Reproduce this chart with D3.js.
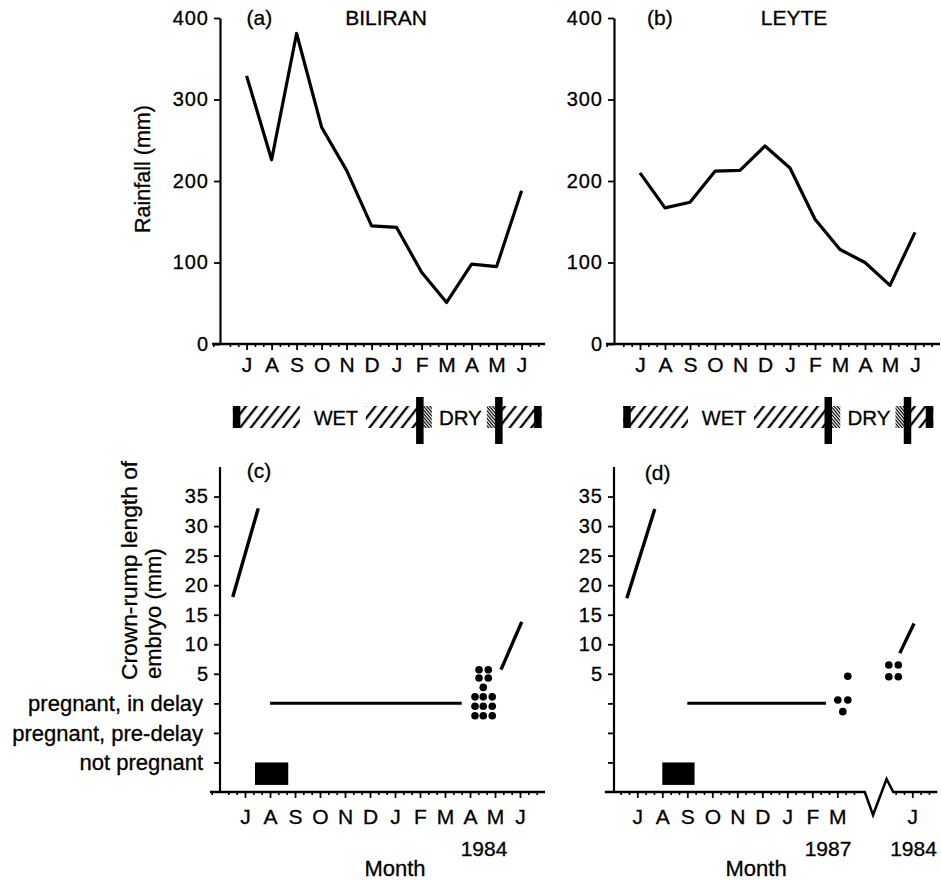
<!DOCTYPE html>
<html>
<head>
<meta charset="utf-8">
<script src="https://cdnjs.cloudflare.com/ajax/libs/d3/7.8.5/d3.min.js"></script>
<style>
  body { margin: 0; background: #fff; }
  text { font-family: "Liberation Sans", Arial, Helvetica, sans-serif; fill: #000; stroke: #000; stroke-width: 0.3px; }
</style>
</head>
<body>
<script>
// months July..June
var months = ["J","A","S","O","N","D","J","F","M","A","M","J"];
var rainBiliran = [329, 226, 381, 266, 213, 145, 143, 88, 51, 98, 95, 188];
var rainLeyte = [210, 167, 174, 212, 213, 243, 216, 153, 116, 100, 72, 137];
var rainTicks = [0, 100, 200, 300, 400];
var mmTicks = [5, 10, 15, 20, 25, 30, 35];
// reproductive states sit below the mm scale
var stateTicks = [0, -5, -10];
var stateNames = ["pregnant, in delay", "pregnant, pre-delay", "not pregnant"];

// season bar: start, end of wet, end of dry, end (months from first J)
var seasonBiliran = [-0.55, 6.93, 10.09, 11.8];
var seasonLeyte = [-0.67, 7.53, 10.7, 11.73];

// embryo growth segments [month0, mm0, month1, mm1]
var growthBiliran = [[-0.49, 18, 0.53, 33], [10.24, 5.7, 11.07, 13.8]];
var growthLeyte = [[-0.42, 17.8, 0.7, 32.9], [10.5, 8.5, 11.07, 13.5]];
// not pregnant [from, to] and in delay [from, to], in months
var notPregBiliran = [0.4, 1.73];
var notPregLeyte = [1.0, 2.29];
var delayBiliran = [1.0, 8.67];
var delayLeyte = [2.0, 7.55];
// single embryos [month, mm]
var embryoBiliran = [[9.36,5.7],[9.73,5.7],[9.36,4.3],[9.73,4.3],[9.53,2.7],
  [9.2,1.1],[9.53,1.1],[9.89,1.1],[9.2,-0.5],[9.53,-0.5],[9.89,-0.5],
  [9.2,-2.1],[9.53,-2.1],[9.89,-2.1]];
var embryoLeyte = [[8.02,0.57],[8.42,0.57],[8.22,-1.4],[8.42,4.6],
  [10.06,6.5],[10.44,6.5],[10.06,4.5],[10.44,4.5]];

var W = 941, H = 881;
var FONT = "'Liberation Sans', Arial, sans-serif";
var svg = d3.select("body").append("svg").attr("width", W).attr("height", H);
svg.append("rect").attr("width", W).attr("height", H).attr("fill", "#fff");

var defs = svg.append("defs");
defs.append("pattern").attr("id", "wet")
  .attr("patternUnits", "userSpaceOnUse")
  .attr("width", 8.5).attr("height", 30)
  .attr("patternTransform", "rotate(38)")
  .append("line")
  .attr("x1", 2).attr("y1", 0).attr("x2", 2).attr("y2", 30)
  .attr("stroke", "#000").attr("stroke-width", 2.3);
defs.append("pattern").attr("id", "dry")
  .attr("patternUnits", "userSpaceOnUse")
  .attr("width", 2.4).attr("height", 30)
  .attr("patternTransform", "rotate(-40)")
  .append("line")
  .attr("x1", 1).attr("y1", 0).attr("x2", 1).attr("y2", 30)
  .attr("stroke", "#000").attr("stroke-width", 1.2);

var yRain = d3.scaleLinear().domain([0, 400]).range([344, 18]);
var yEmb = d3.scaleLinear().domain([-15, 40]).range([792, 467]);

function monthScale(j0) {
  return d3.scaleLinear().domain([0, 11]).range([j0, j0 + 275]);
}

// x axis: line, major month ticks, minor ticks
function xAxis(g, x, y0, from, to, majors, gap, pad) {
  var minors = d3.range(Math.ceil(from * 3), Math.floor(to * 3) + 1)
    .map(function(k) { return k / 3; })
    .filter(function(m) { return Math.abs(m - Math.round(m)) > 0.01; })
    .filter(function(m) { return !gap || m < gap[0] || m > gap[1]; });
  g.append("g").attr("transform", "translate(0," + y0 + ")")
    .call(d3.axisBottom(x).tickValues(minors).tickSize(3).tickFormat(""))
    .call(function(s) { s.select(".domain").remove(); s.selectAll("line").attr("stroke", "#000").attr("stroke-width", 1.6); });
  var ax = g.append("g").attr("transform", "translate(0," + y0 + ")")
    .call(d3.axisBottom(x).tickValues(majors).tickSize(6).tickPadding(pad)
      .tickFormat(function(d) { return months[d]; }));
  ax.select(".domain").remove();
  ax.selectAll("line").attr("stroke", "#000").attr("stroke-width", 1.8);
  ax.selectAll("text").attr("font-size", 21).style("font-family", FONT);
  var pts;
  if (gap) {
    // broken axis (zig-zag)
    pts = [[from, 0], [gap[0], 0], [gap[0] + 0.33, 23], [gap[0] + 0.87, -13], [gap[1], 0], [to, 0]];
  } else {
    pts = [[from, 0], [to, 0]];
  }
  g.append("path")
    .attr("d", d3.line().x(function(d) { return x(d[0]); }).y(function(d) { return y0 + d[1]; })(pts))
    .attr("fill", "none").attr("stroke", "#000").attr("stroke-width", 2.5);
}

function yAxis(g, xPos, y, ticks, fmt) {
  var ax = g.append("g").attr("transform", "translate(" + xPos + ",0)")
    .call(d3.axisLeft(y).tickValues(ticks).tickSize(6).tickPadding(5).tickSizeOuter(0).tickFormat(fmt));
  ax.select(".domain").attr("stroke", "#000").attr("stroke-width", 2.2);
  ax.selectAll("line").attr("stroke", "#000").attr("stroke-width", 1.8);
  ax.selectAll("text").attr("font-size", 20).style("font-family", FONT).style("letter-spacing", "1px");
  return ax;
}

function rainPanel(j0, yAxisX, axisFrom, axisTo, data, tag, tagX, name, nameX) {
  var g = svg.append("g");
  var x = monthScale(j0);
  yAxis(g, yAxisX, yRain, rainTicks, d3.format("d"));
  xAxis(g, x, yRain(0), axisFrom, axisTo, d3.range(12), null, 7);
  g.append("path").datum(data)
    .attr("d", d3.line().x(function(d, i) { return x(i); }).y(function(d) { return yRain(d); }))
    .attr("fill", "none").attr("stroke", "#000").attr("stroke-width", 3.2)
    .attr("stroke-linejoin", "round");
  g.append("text").attr("x", x(tagX)).attr("y", 25).attr("font-size", 21).text(tag);
  g.append("text").attr("x", x(nameX)).attr("y", 25).attr("font-size", 21)
    .attr("text-anchor", "middle").text(name);
  return x;
}

function seasonBar(x, s, wetX) {
  var g = svg.append("g");
  var bt = 406, bb = 428, vt = 397, vb = 444, bw = 7.5;
  // wet hatching
  g.append("rect").attr("x", x(s[0])).attr("y", bt).attr("width", x(s[1]) - x(s[0])).attr("height", bb - bt).attr("fill", "url(#wet)");
  g.append("rect").attr("x", x(s[2])).attr("y", bt).attr("width", x(s[3]) - x(s[2])).attr("height", bb - bt).attr("fill", "url(#wet)");
  // dry: dense hatching at both ends
  g.append("rect").attr("x", x(s[1])).attr("y", bt).attr("width", 12).attr("height", bb - bt).attr("fill", "url(#dry)");
  g.append("rect").attr("x", x(s[2]) - 12).attr("y", bt).attr("width", 12).attr("height", bb - bt).attr("fill", "url(#dry)");
  // white gaps behind labels
  g.append("rect").attr("x", x(wetX) - 36).attr("y", bt - 1).attr("width", 66).attr("height", bb - bt + 2).attr("fill", "#fff");
  g.append("text").attr("x", x(wetX)).attr("y", 425).attr("font-size", 20).attr("text-anchor", "middle").text("WET");
  g.append("text").attr("x", (x(s[1]) + x(s[2])) / 2 + 1).attr("y", 425).attr("font-size", 20.5).attr("text-anchor", "middle").text("DRY");
  // black ends and season markers
  g.append("rect").attr("x", x(s[0])).attr("y", bt).attr("width", bw).attr("height", bb - bt).attr("fill", "#000");
  g.append("rect").attr("x", x(s[3]) - bw).attr("y", bt).attr("width", bw).attr("height", bb - bt).attr("fill", "#000");
  [s[1], s[2]].forEach(function(m) {
    g.append("rect").attr("x", x(m) - bw / 2).attr("y", vt).attr("width", bw).attr("height", vb - vt).attr("fill", "#000");
  });
}

function embryoPanel(j0, yAxisX, axisFrom, axisTo, majors, gap, tag, tagX, labels,
                     growth, notPreg, delay, dots) {
  var g = svg.append("g");
  var x = monthScale(j0);
  var ax = yAxis(g, yAxisX, yEmb, mmTicks.concat(stateTicks), function(d) { return d > 0 ? d : ""; });
  ax.select(".domain").attr("d", "M0," + yEmb(40) + "V" + yEmb(-15));
  if (labels) {
    stateTicks.forEach(function(t, i) {
      g.append("text").attr("x", yAxisX - 17).attr("y", yEmb(t)).attr("dy", "0.35em")
        .attr("text-anchor", "end").attr("font-size", 22).text(stateNames[i]);
    });
  }
  xAxis(g, x, yEmb(-15), axisFrom, axisTo, majors, gap, 11);
  g.append("text").attr("x", x(tagX)).attr("y", 478 + (labels ? 0 : 2)).attr("font-size", 21).text(tag);
  g.selectAll(".growth").data(growth).enter().append("line")
    .attr("x1", function(d) { return x(d[0]); }).attr("y1", function(d) { return yEmb(d[1]); })
    .attr("x2", function(d) { return x(d[2]); }).attr("y2", function(d) { return yEmb(d[3]); })
    .attr("stroke", "#000").attr("stroke-width", 3.4);
  g.append("rect").attr("x", x(notPreg[0])).attr("y", yEmb(-10))
    .attr("width", x(notPreg[1]) - x(notPreg[0])).attr("height", yEmb(-13.8) - yEmb(-10))
    .attr("fill", "#000");
  g.append("line").attr("x1", x(delay[0])).attr("x2", x(delay[1]))
    .attr("y1", yEmb(0)).attr("y2", yEmb(0)).attr("stroke", "#000").attr("stroke-width", 3);
  g.selectAll(".dot").data(dots).enter().append("circle")
    .attr("cx", function(d) { return x(d[0]); }).attr("cy", function(d) { return yEmb(d[1]); })
    .attr("r", 3.8).attr("fill", "#000");
  return x;
}

// (a) and (b) rainfall
var xa = rainPanel(246.6, 220, -1.38, 11.94, rainBiliran, "(a)", 0, "BILIRAN", 5.58);
var xb = rainPanel(640, 614, -1.36, 12.0, rainLeyte, "(b)", 0.28, "LEYTE", 6.16);

svg.append("text").attr("transform", "translate(150,169) rotate(-90)")
  .attr("text-anchor", "middle").attr("font-size", 21.5).text("Rainfall (mm)");

seasonBar(xa, seasonBiliran, 3.57);
seasonBar(xb, seasonLeyte, 3.36);

// (c) and (d) embryo development
var xc = embryoPanel(245, 220, -1.4, 12.0, d3.range(12), null, "(c)", 0.07, true,
  growthBiliran, notPregBiliran, delayBiliran, embryoBiliran);
var xd = embryoPanel(637.3, 614, -1.3, 12.0, d3.range(9).concat([11]), [9.1, 10.24], "(d)", 0.3, false,
  growthLeyte, notPregLeyte, delayLeyte, embryoLeyte);

svg.append("text").attr("font-size", 22.8).attr("text-anchor", "start")
  .attr("transform", "translate(137,680) rotate(-90)").text("Crown-rump length of");
svg.append("text").attr("font-size", 22).attr("text-anchor", "start")
  .attr("transform", "translate(161,679) rotate(-90)").text("embryo (mm)");

// years and axis titles
svg.append("text").attr("x", xc(9.56)).attr("y", 856).attr("font-size", 21).attr("text-anchor", "middle").text("1984");
svg.append("text").attr("x", xd(7.63)).attr("y", 856).attr("font-size", 21).attr("text-anchor", "middle").text("1987");
svg.append("text").attr("x", xd(11.05)).attr("y", 856).attr("font-size", 21).attr("text-anchor", "middle").text("1984");
svg.append("text").attr("x", xc(6)).attr("y", 876).attr("font-size", 22).attr("text-anchor", "middle").text("Month");
svg.append("text").attr("x", xd(4.75)).attr("y", 876).attr("font-size", 22).attr("text-anchor", "middle").text("Month");
</script>
</body>
</html>
